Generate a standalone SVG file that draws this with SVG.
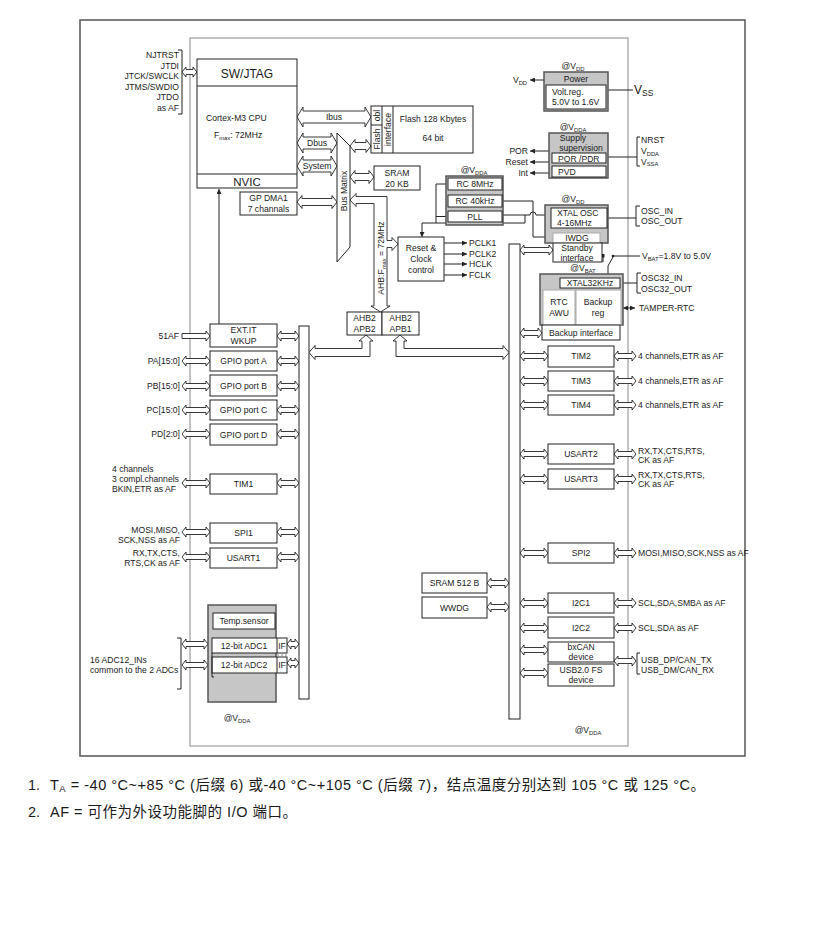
<svg xmlns="http://www.w3.org/2000/svg" width="814" height="935" viewBox="0 0 814 935">
<style>
text{font-family:"Liberation Sans",Arial,"Noto Sans CJK SC",sans-serif;font-size:8.6px;fill:#1a1a1a}
.c{text-anchor:middle}.e{text-anchor:end}
.b{fill:#fff;stroke:#222;stroke-width:1}
.g{fill:#c6c6c6;stroke:#555;stroke-width:1.5}
.w{fill:#fff;stroke:#aaa;stroke-width:1}
.ar{fill:#fff;stroke:#222;stroke-width:0.9;stroke-linejoin:miter}
.ln{fill:none;stroke:#222;stroke-width:1}
.sub{font-size:5.8px}
.fn{font-size:14.5px}
</style>
<defs>
<marker id="ah" viewBox="0 0 10 10" refX="10" refY="5" markerWidth="5" markerHeight="5" orient="auto-start-reverse" markerUnits="userSpaceOnUse"><path d="M0,0 L10,5 L0,10 z" fill="#222"/></marker>
</defs>
<rect x="0" y="0" width="814" height="935" fill="#fff"/>
<rect x="80" y="20" width="665" height="736" fill="none" stroke="#555" stroke-width="1.5"/>
<rect x="190" y="38" width="438" height="708" fill="none" stroke="#888" stroke-width="1"/>

<g id="connectors">
<path class="ln" d="M178,50 H182 V114 H178"/>
<path class="ar" d="M182,72 l4,-5 v2.5 H193 v-2.5 l4,5 l-4,5 v-2.5 H186 v2.5 z"/>
<path class="ar" d="M297,117 l6,-10 v4 H365 v-4 l6,10 l-6,10 v-4 H303 v4 z"/>
<path class="ar" d="M297,143 l6,-10 v4 H331 v-4 l6,10 l-6,10 v-4 H303 v4 z"/>
<path class="ar" d="M297,166 l6,-10 v4 H331 v-4 l6,10 l-6,10 v-4 H303 v4 z"/>
<path class="ar" d="M350,146 l5,-6.5 v3 H366 v-3 l5,6.5 l-5,6.5 v-3 H355 v3 z"/>
<path class="ar" d="M350,177 l5,-6.5 v3 H369 v-3 l5,6.5 l-5,6.5 v-3 H355 v3 z"/>
<path class="ar" d="M297,202 l5,-6.5 v3 H332 v-3 l5,6.5 l-5,6.5 v-3 H302 v3 z"/>
<path class="ln" d="M219,324 V189" marker-end="url(#ah)"/>
<path class="ln" d="M448,184 H436 V223 H525 V215"/>
<path class="ln" d="M448,216.5 H436"/>
<path class="ln" d="M436,223 H422 V237" marker-end="url(#ah)"/>
<path class="ln" d="M502,215 H530 a3,3 0 0 1 6,0 H545"/>
<path class="ln" d="M502,201 H533 V237 H553" marker-end="url(#ah)"/>
<path class="ln" d="M444,243 H467" marker-end="url(#ah)"/>
<path class="ln" d="M444,254 H467" marker-end="url(#ah)"/>
<path class="ln" d="M444,264 H467" marker-end="url(#ah)"/>
<path class="ln" d="M444,275 H467" marker-end="url(#ah)"/>
<path class="ln" d="M544,80 H530" marker-end="url(#ah)"/>
<path class="ln" d="M608,90 H633"/>
<path class="ln" d="M549,151 H530" marker-end="url(#ah)"/>
<path class="ln" d="M549,162 H530" marker-end="url(#ah)"/>
<path class="ln" d="M549,173 H530" marker-end="url(#ah)"/>
<path class="ln" d="M608,157 H637"/>
<path class="ln" d="M640,137 H637 V166 H640"/>
<path class="ln" d="M608,218 H636"/>
<path class="ln" d="M640,206 H636 V226 H640"/>
<path class="ln" d="M620,283 H637"/>
<path class="ln" d="M641,273 H637 V293 H641"/>
<path class="ln" d="M623,308 H635" marker-start="url(#ah)" marker-end="url(#ah)"/>
<path class="ln" d="M608,274 V266 L613,257 M613,256 H640"/>
<circle cx="613" cy="256" r="1.3" fill="#222"/>
<path class="ln" d="M603,262 V257"/>
<rect x="602" y="254" width="2.5" height="3.5" fill="#222"/>
<path class="ln" d="M548,283.5 H560 M552.5,283.5 V290" marker-end="url(#ah)"/>
<path class="ar" d="M520,250 l4,-5 v2.5 H549 v-2.5 l4,5 l-4,5 v-2.5 H524 v2.5 z"/>
<path class="ar" d="M520,333 l4,-5 v2.5 H538 v-2.5 l4,5 l-4,5 v-2.5 H524 v2.5 z"/>
<path class="ar" d="M350,200 L356,193.5 L356,196.5 L387,196.5 L387,240.5 L392,240.5 L392,237.5 L398,244 L392,250.5 L392,247.5 L387,247.5 L387,306 L390,306 L380.5,312 L371,306 L374,306 L374,203.5 L356,203.5 L356,206.5 Z"/>
<path class="ar" d="M366,335 L373,341 L370,341 L370,356.5 L315,356.5 L315,359.5 L309,352.5 L315,345.5 L315,348.5 L362,348.5 L362,341 L359,341 Z"/>
<path class="ar" d="M400,335 L407,341 L404,341 L404,348.5 L503,348.5 L503,345.5 L509,352.5 L503,359.5 L503,356.5 L396,356.5 L396,341 L393,341 Z"/>
<path class="ar" d="M182,333.5 H206 V331 L210,336 L206,341 V338.5 H182 Z"/>
<path class="ar" d="M277,336 l4,-5 v2.5 H295 v-2.5 l4,5 l-4,5 v-2.5 H281 v2.5 z"/>
<path class="ar" d="M182,361 l4,-5 v2.5 H206 v-2.5 l4,5 l-4,5 v-2.5 H186 v2.5 z"/>
<path class="ar" d="M277,361 l4,-5 v2.5 H295 v-2.5 l4,5 l-4,5 v-2.5 H281 v2.5 z"/>
<path class="ar" d="M182,386 l4,-5 v2.5 H206 v-2.5 l4,5 l-4,5 v-2.5 H186 v2.5 z"/>
<path class="ar" d="M277,386 l4,-5 v2.5 H295 v-2.5 l4,5 l-4,5 v-2.5 H281 v2.5 z"/>
<path class="ar" d="M182,410 l4,-5 v2.5 H206 v-2.5 l4,5 l-4,5 v-2.5 H186 v2.5 z"/>
<path class="ar" d="M277,410 l4,-5 v2.5 H295 v-2.5 l4,5 l-4,5 v-2.5 H281 v2.5 z"/>
<path class="ar" d="M182,434 l4,-5 v2.5 H206 v-2.5 l4,5 l-4,5 v-2.5 H186 v2.5 z"/>
<path class="ar" d="M277,434 l4,-5 v2.5 H295 v-2.5 l4,5 l-4,5 v-2.5 H281 v2.5 z"/>
<path class="ar" d="M182,483 l4,-5 v2.5 H206 v-2.5 l4,5 l-4,5 v-2.5 H186 v2.5 z"/>
<path class="ar" d="M277,483 l4,-5 v2.5 H295 v-2.5 l4,5 l-4,5 v-2.5 H281 v2.5 z"/>
<path class="ar" d="M182,532 l4,-5 v2.5 H206 v-2.5 l4,5 l-4,5 v-2.5 H186 v2.5 z"/>
<path class="ar" d="M277,532 l4,-5 v2.5 H295 v-2.5 l4,5 l-4,5 v-2.5 H281 v2.5 z"/>
<path class="ar" d="M182,557 l4,-5 v2.5 H206 v-2.5 l4,5 l-4,5 v-2.5 H186 v2.5 z"/>
<path class="ar" d="M277,557 l4,-5 v2.5 H295 v-2.5 l4,5 l-4,5 v-2.5 H281 v2.5 z"/>
<path class="ln" d="M177,638 H181 V689 H177"/>
<path class="ar" d="M182,644 l4,-5 v2.5 H204 v-2.5 l4,5 l-4,5 v-2.5 H186 v2.5 z"/>
<path class="ar" d="M182,665 l4,-5 v2.5 H204 v-2.5 l4,5 l-4,5 v-2.5 H186 v2.5 z"/>
<path class="ar" d="M287,644 l4,-5 v2.5 H295 v-2.5 l4,5 l-4,5 v-2.5 H291 v2.5 z"/>
<path class="ar" d="M287,663 l4,-5 v2.5 H295 v-2.5 l4,5 l-4,5 v-2.5 H291 v2.5 z"/>
<path class="ar" d="M520,356 l4,-5 v2.5 H544 v-2.5 l4,5 l-4,5 v-2.5 H524 v2.5 z"/>
<path class="ar" d="M520,381 l4,-5 v2.5 H544 v-2.5 l4,5 l-4,5 v-2.5 H524 v2.5 z"/>
<path class="ar" d="M520,405 l4,-5 v2.5 H544 v-2.5 l4,5 l-4,5 v-2.5 H524 v2.5 z"/>
<path class="ar" d="M520,454 l4,-5 v2.5 H544 v-2.5 l4,5 l-4,5 v-2.5 H524 v2.5 z"/>
<path class="ar" d="M520,479 l4,-5 v2.5 H544 v-2.5 l4,5 l-4,5 v-2.5 H524 v2.5 z"/>
<path class="ar" d="M520,553 l4,-5 v2.5 H544 v-2.5 l4,5 l-4,5 v-2.5 H524 v2.5 z"/>
<path class="ar" d="M520,603 l4,-5 v2.5 H544 v-2.5 l4,5 l-4,5 v-2.5 H524 v2.5 z"/>
<path class="ar" d="M520,628 l4,-5 v2.5 H544 v-2.5 l4,5 l-4,5 v-2.5 H524 v2.5 z"/>
<path class="ar" d="M520,650 l4,-5 v2.5 H544 v-2.5 l4,5 l-4,5 v-2.5 H524 v2.5 z"/>
<path class="ar" d="M520,673 l4,-5 v2.5 H544 v-2.5 l4,5 l-4,5 v-2.5 H524 v2.5 z"/>
<path class="ar" d="M614,356 l4,-5 v2.5 H632 v-2.5 l4,5 l-4,5 v-2.5 H618 v2.5 z"/>
<path class="ar" d="M614,381 l4,-5 v2.5 H632 v-2.5 l4,5 l-4,5 v-2.5 H618 v2.5 z"/>
<path class="ar" d="M614,405 l4,-5 v2.5 H632 v-2.5 l4,5 l-4,5 v-2.5 H618 v2.5 z"/>
<path class="ar" d="M614,454 l4,-5 v2.5 H632 v-2.5 l4,5 l-4,5 v-2.5 H618 v2.5 z"/>
<path class="ar" d="M614,479 l4,-5 v2.5 H632 v-2.5 l4,5 l-4,5 v-2.5 H618 v2.5 z"/>
<path class="ar" d="M614,553 l4,-5 v2.5 H632 v-2.5 l4,5 l-4,5 v-2.5 H618 v2.5 z"/>
<path class="ar" d="M614,603 l4,-5 v2.5 H632 v-2.5 l4,5 l-4,5 v-2.5 H618 v2.5 z"/>
<path class="ar" d="M614,628 l4,-5 v2.5 H632 v-2.5 l4,5 l-4,5 v-2.5 H618 v2.5 z"/>
<path class="ar" d="M614,661 l4,-5 v2.5 H632 v-2.5 l4,5 l-4,5 v-2.5 H618 v2.5 z"/>
<path class="ln" d="M640,653 H637 V674 H640"/>
<path class="ar" d="M487,583 l4,-5 v2.5 H505 v-2.5 l4,5 l-4,5 v-2.5 H491 v2.5 z"/>
<path class="ar" d="M487,607 l4,-5 v2.5 H505 v-2.5 l4,5 l-4,5 v-2.5 H491 v2.5 z"/>
</g>

<g id="jtag-labels">
<text class="e" x="179" y="58">NJTRST</text>
<text class="e" x="179" y="68.6">JTDI</text>
<text class="e" x="179" y="79.2">JTCK/SWCLK</text>
<text class="e" x="179" y="89.8">JTMS/SWDIO</text>
<text class="e" x="179" y="100.4">JTDO</text>
<text class="e" x="179" y="111">as AF</text>
</g>
<g id="cpu">
<rect class="b" x="197" y="59" width="100" height="129"/>
<path class="ln" d="M197,86 H297 M197,174 H297"/>
<text class="c" x="247" y="77.5" style="font-size:12px">SW/JTAG</text>
<text x="206" y="121">Cortex-M3 CPU</text>
<text x="214" y="138">F<tspan class="sub" dy="2">max</tspan><tspan dy="-2">: 72MHz</tspan></text>
<text class="c" x="247" y="185.5" style="font-size:11.5px">NVIC</text>
</g>
<g id="bus-labels">
<text class="c" x="334" y="120">Ibus</text>
<text class="c" x="317" y="146">Dbus</text>
<text class="c" x="317" y="169">System</text>
</g>
<g id="bus-matrix">
<polygon class="b" points="337,133 350,146 350,247 337,262"/>
<text class="c" transform="rotate(-90 346.5 191)" x="346.5" y="191">Bus Matrix</text>
</g>
<g id="ahb-label">
<text class="c" transform="rotate(-90 383.5 258)" x="383.5" y="258">AHB:F<tspan class="sub" dy="2">max</tspan><tspan dy="-2"> = 72MHz</tspan></text>
</g>
<g id="flash">
<rect class="b" x="371" y="106" width="102" height="47"/>
<path class="ln" d="M382,106 V153 M393,106 V153 M371,125 H382"/>
<text class="c" transform="rotate(-90 379.5 115.5)" x="379.5" y="115.5">obl</text>
<text class="c" transform="rotate(-90 379.5 139)" x="379.5" y="139">Flash</text>
<text class="c" transform="rotate(-90 390.5 129.5)" x="390.5" y="129.5">interface</text>
<text class="c" x="433" y="122">Flash 128 Kbytes</text>
<text class="c" x="433" y="141">64 bit</text>
</g>
<g id="sram">
<rect class="b" x="374" y="166" width="46" height="24"/>
<text class="c" x="397" y="176">SRAM</text>
<text class="c" x="397" y="187">20 KB</text>
</g>
<g id="dma">
<rect class="b" x="240" y="192" width="57" height="23"/>
<text class="c" x="268.5" y="201">GP DMA1</text>
<text class="c" x="268.5" y="212">7 channals</text>
</g>
<g id="rc">
<text class="c" x="474" y="173">@V<tspan class="sub" dy="1.5">DDA</tspan></text>
<rect class="g" x="446" y="176" width="57" height="49"/>
<rect class="b" x="448" y="178" width="54" height="12"/>
<rect class="b" x="448" y="195" width="54" height="12"/>
<rect class="b" x="448" y="211" width="54" height="11"/>
<text class="c" x="475" y="187">RC 8MHz</text>
<text class="c" x="475" y="204">RC 40kHz</text>
<text class="c" x="475" y="219.5">PLL</text>
</g>
<g id="rcc">
<rect class="b" x="398" y="237" width="46" height="44"/>
<text class="c" x="421" y="251">Reset &amp;</text>
<text class="c" x="421" y="262">Clock</text>
<text class="c" x="421" y="273">control</text>
<text x="469" y="246">PCLK1</text>
<text x="469" y="257">PCLK2</text>
<text x="469" y="267">HCLK</text>
<text x="469" y="278">FCLK</text>
</g>
<g id="power">
<text class="c" x="573" y="69">@V<tspan class="sub" dy="1.5">DD</tspan></text>
<rect class="g" x="544" y="72" width="64" height="39"/>
<rect class="b" x="546" y="85" width="60" height="24"/>
<text class="c" x="576" y="81.5">Power</text>
<text x="552" y="94.5">Volt.reg.</text>
<text x="552" y="105">5.0V to 1.6V</text>
<text class="e" x="527" y="83">V<tspan class="sub" dy="1.5">DD</tspan></text>
<text x="634" y="94" style="font-size:12px">V<tspan style="font-size:8.5px" dy="2">SS</tspan></text>
</g>
<g id="supply">
<text class="c" x="573" y="130">@V<tspan class="sub" dy="1.5">DDA</tspan></text>
<rect class="g" x="549" y="133" width="59" height="45"/>
<text class="c" x="573" y="141">Supply</text>
<text class="c" x="581" y="151">supervision</text>
<rect class="b" x="552" y="153" width="54" height="10"/>
<rect class="b" x="552" y="166" width="54" height="11"/>
<text x="558" y="161.5">POR /PDR</text>
<text x="558" y="174.5">PVD</text>
<text class="e" x="528" y="154">POR</text>
<text class="e" x="528" y="165">Reset</text>
<text class="e" x="528" y="176">Int</text>
<text x="641" y="143">NRST</text>
<text x="641" y="154">V<tspan class="sub" dy="1.5">DDA</tspan></text>
<text x="641" y="164.5">V<tspan class="sub" dy="1.5">SSA</tspan></text>
</g>
<g id="xtal">
<text class="c" x="573" y="202">@V<tspan class="sub" dy="1.5">DD</tspan></text>
<rect class="g" x="545" y="205" width="63" height="38"/>
<rect class="b" x="551" y="208" width="56" height="20"/>
<text x="557" y="216">XTAL OSC</text>
<text x="557" y="226">4-16MHz</text>
<rect class="w" x="553" y="233" width="47" height="10"/>
<text class="c" x="577" y="241">IWDG</text>
<rect class="b" x="553" y="243" width="49" height="19"/>
<text class="c" x="577" y="250.5">Standby</text>
<text class="c" x="577" y="260.5">interface</text>
<text x="641" y="214">OSC_IN</text>
<text x="641" y="224">OSC_OUT</text>
<text x="642" y="259">V<tspan class="sub" dy="1.5">BAT</tspan><tspan dy="-1.5">=1.8V to 5.0V</tspan></text>
</g>
<g id="vbat">
<text class="c" x="583" y="271">@V<tspan class="sub" dy="1.5">BAT</tspan></text>
<rect class="g" x="540" y="274" width="83" height="51"/>
<rect class="b" x="560" y="278" width="60" height="10"/>
<text class="c" x="590" y="286">XTAL32KHz</text>
<rect class="w" x="543" y="290" width="32" height="35"/>
<rect class="w" x="576" y="290" width="45" height="35"/>
<text class="c" x="559" y="305">RTC</text>
<text class="c" x="559" y="316">AWU</text>
<text class="c" x="598" y="305">Backup</text>
<text class="c" x="598" y="316">reg</text>
<rect class="b" x="542" y="325" width="78" height="15"/>
<text class="c" x="581" y="336">Backup interface</text>
<text x="641" y="281">OSC32_IN</text>
<text x="641" y="292">OSC32_OUT</text>
<text x="639" y="311">TAMPER-RTC</text>
</g>
<g id="ahb-bridges">
<rect class="b" x="347" y="312" width="35" height="23"/>
<rect class="b" x="382" y="312" width="37" height="23"/>
<text class="c" x="364.5" y="321">AHB2</text>
<text class="c" x="364.5" y="332">APB2</text>
<text class="c" x="400.5" y="321">AHB2</text>
<text class="c" x="400.5" y="332">APB1</text>
</g>
<g id="apb2-bus"><rect class="b" x="299" y="326" width="10" height="373"/></g>
<g id="apb1-bus"><rect class="b" x="509" y="244" width="11" height="475"/></g>
<g id="left-periph">
<text class="e" x="179" y="339">51AF</text>
<rect class="b" x="210" y="324" width="67" height="23"/>
<text class="c" x="243.5" y="333">EXT.IT</text>
<text class="c" x="243.5" y="344">WKUP</text>
<rect class="b" x="210" y="351" width="67" height="20"/>
<text class="c" x="243.5" y="364">GPIO port A</text>
<text class="e" x="180" y="364">PA[15:0]</text>
<rect class="b" x="210" y="375" width="67" height="21"/>
<text class="c" x="243.5" y="389">GPIO port B</text>
<text class="e" x="180" y="389">PB[15:0]</text>
<rect class="b" x="210" y="400" width="67" height="20"/>
<text class="c" x="243.5" y="413">GPIO port C</text>
<text class="e" x="180" y="413">PC[15:0]</text>
<rect class="b" x="210" y="424" width="67" height="21"/>
<text class="c" x="243.5" y="437.5">GPIO port D</text>
<text class="e" x="180" y="437">PD[2:0]</text>
<rect class="b" x="210" y="474" width="67" height="20"/>
<text class="c" x="243.5" y="487">TIM1</text>
<text x="112" y="472">4 channels</text>
<text x="112" y="482">3 compl.channels</text>
<text x="112" y="491.5">BKIN,ETR as AF</text>
<rect class="b" x="210" y="523" width="67" height="20"/>
<text class="c" x="243.5" y="536">SPI1</text>
<text class="e" x="180" y="533">MOSI,MISO,</text>
<text class="e" x="180" y="542.5">SCK,NSS as AF</text>
<rect class="b" x="210" y="548" width="67" height="20"/>
<text class="c" x="243.5" y="561">USART1</text>
<text class="e" x="180" y="555.5">RX,TX,CTS,</text>
<text class="e" x="180" y="565.5">RTS,CK as AF</text>
</g>
<g id="adc">
<rect class="g" x="208" y="605" width="68" height="97"/>
<rect class="b" x="213" y="613" width="62" height="16"/>
<text class="c" x="244" y="624">Temp.sensor</text>
<rect class="b" x="212" y="638" width="75" height="15"/>
<rect class="b" x="212" y="657" width="75" height="16"/>
<path class="ln" d="M277,638 V653 M277,657 V673 M212,653 V677 H214"/>
<path d="M277,655 H287" stroke="#888" stroke-dasharray="2,2" fill="none"/>
<text class="c" x="244" y="648.5">12-bit ADC1</text>
<text class="c" x="244" y="668">12-bit ADC2</text>
<text class="c" x="282" y="648.5">IF</text>
<text class="c" x="282" y="668">IF</text>
<text x="90" y="663">16 ADC12_INs</text>
<text x="90" y="673">common to the 2 ADCs</text>
<text class="c" x="237" y="721">@V<tspan class="sub" dy="1.5">DDA</tspan></text>
</g>
<g id="right-periph">
<rect class="b" x="548" y="346" width="66" height="21"/>
<text class="c" x="581" y="359">TIM2</text>
<rect class="b" x="548" y="371" width="66" height="20"/>
<text class="c" x="581" y="384">TIM3</text>
<rect class="b" x="548" y="395" width="66" height="20"/>
<text class="c" x="581" y="408">TIM4</text>
<text x="638" y="359">4 channels,ETR as AF</text>
<text x="638" y="384">4 channels,ETR as AF</text>
<text x="638" y="408">4 channels,ETR as AF</text>
<rect class="b" x="548" y="444" width="66" height="20"/>
<text class="c" x="581" y="457">USART2</text>
<text x="638" y="454">RX,TX,CTS,RTS,</text>
<text x="638" y="462.5">CK as AF</text>
<rect class="b" x="548" y="469" width="66" height="20"/>
<text class="c" x="581" y="482">USART3</text>
<text x="638" y="478">RX,TX,CTS,RTS,</text>
<text x="638" y="486.5">CK as AF</text>
<rect class="b" x="548" y="543" width="66" height="20"/>
<text class="c" x="581" y="556">SPI2</text>
<text x="638" y="556">MOSI,MISO,SCK,NSS as AF</text>
<rect class="b" x="422" y="573" width="65" height="20"/>
<text class="c" x="454.5" y="586">SRAM 512 B</text>
<rect class="b" x="422" y="597" width="65" height="21"/>
<text class="c" x="454.5" y="611">WWDG</text>
<rect class="b" x="548" y="593" width="66" height="20"/>
<text class="c" x="581" y="606">I2C1</text>
<text x="638" y="606">SCL,SDA,SMBA as AF</text>
<rect class="b" x="548" y="617" width="66" height="21"/>
<text class="c" x="581" y="631">I2C2</text>
<text x="638" y="631">SCL,SDA as AF</text>
<rect class="b" x="548" y="642" width="66" height="20"/>
<text class="c" x="581" y="650">bxCAN</text>
<text class="c" x="581" y="660">device</text>
<rect class="b" x="548" y="664" width="66" height="22"/>
<text class="c" x="581" y="672.5">USB2.0 FS</text>
<text class="c" x="581" y="682.5">device</text>
<text x="641" y="663">USB_DP/CAN_TX</text>
<text x="641" y="673">USB_DM/CAN_RX</text>
<text class="c" x="588" y="733">@V<tspan class="sub" dy="1.5">DDA</tspan></text>
</g>
<g id="notes">
<text class="fn" x="28" y="790">1.</text>
<text class="fn" x="50" y="790" textLength="655">T<tspan style="font-size:9.5px" dy="2">A</tspan><tspan dy="-2"> = -40 °C~+85 °C (后缀 6)  或-40 °C~+105 °C (后缀 7)，结点温度分别达到 105 °C 或 125 °C。</tspan></text>
<text class="fn" x="28" y="817">2.</text>
<text class="fn" x="50" y="817" textLength="247">AF =  可作为外设功能脚的 I/O 端口。</text>
</g>
</svg>
